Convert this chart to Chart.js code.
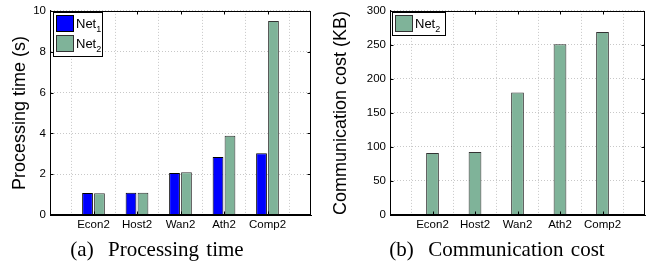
<!DOCTYPE html>
<html>
<head>
<meta charset="utf-8">
<script src="https://cdn.jsdelivr.net/npm/chart.js@4"></script>
<style>
  body { margin: 0; background: #fff; width: 650px; height: 268px; position: relative; overflow: hidden; }
  .box { position: absolute; top: 0; width: 325px; height: 240px; }
  .cap { position: absolute; top: 237px; font-family: 'Liberation Serif', 'Times New Roman', serif; font-size: 21px; color: #000; white-space: nowrap; word-spacing: 2px; transform: translateX(-50%); }
</style>
</head>
<body>
<div class="box" style="left:0"><canvas id="timeChart" width="325" height="240"></canvas></div>
<div class="box" style="left:325px"><canvas id="commChart" width="325" height="240"></canvas></div>
<div class="cap" style="left:157px">(a)&nbsp; Processing time</div>
<div class="cap" style="left:497px">(b)&nbsp; Communication cost</div>
<script>
const categories = ['Econ2', 'Host2', 'Wan2', 'Ath2', 'Comp2'];
const net1Time = [1.08, 1.09, 2.06, 2.84, 3.03];
const net2Time = [1.06, 1.09, 2.10, 3.88, 9.50];
const net2Comm = [91, 92.5, 180, 251, 269];
const timeTicks = [0, 2, 4, 6, 8, 10];
const commTicks = [0, 50, 100, 150, 200, 250, 300];

const blue = '#0000ff';
const green = '#7fb399';
const sans = "'Liberation Sans', Arial, sans-serif";

// matlab xlim is [0, 6]: pad with an empty slot on each side
const padLabels = ['', ...categories, ''];
const pad = arr => [null, ...arr, null];

// box around the axes, inward tick marks and the matlab style legend
const matlabBox = {
    id: 'matlabBox',
    afterDatasetsDraw(chart, args, opts) {
        const {ctx, chartArea: a, scales: {x, y}} = chart;
        const L = Math.round(a.left) + 0.5, R = Math.round(a.right) - 0.5;
        const T = Math.round(a.top) + 0.5, B = Math.round(a.bottom) - 0.5;
        ctx.save();
        ctx.strokeStyle = '#000';
        ctx.lineWidth = 1;
        ctx.beginPath();
        y.ticks.forEach(t => {
            const py = Math.round(y.getPixelForValue(t.value)) + 0.5;
            ctx.moveTo(L, py); ctx.lineTo(L + 3, py);
            ctx.moveTo(R, py); ctx.lineTo(R - 3, py);
        });
        for (let i = 1; i <= categories.length; i++) {
            const px = Math.round(x.getPixelForValue(i)) + 0.5;
            ctx.moveTo(px, B); ctx.lineTo(px, B - 3);
            ctx.moveTo(px, T); ctx.lineTo(px, T + 3);
        }
        ctx.stroke();
        ctx.strokeRect(L, T, R - L, B - T);

        // legend
        const lg = opts.legend;
        ctx.fillStyle = '#fff';
        ctx.fillRect(lg.x, lg.y, lg.w, lg.h);
        ctx.strokeRect(lg.x + 0.5, lg.y + 0.5, lg.w - 1, lg.h - 1);
        chart.data.datasets.forEach((ds, i) => {
            const sy = lg.y + 3 + i * 20;
            ctx.fillStyle = ds.backgroundColor;
            ctx.fillRect(lg.x + 3, sy, 18, 17);
            ctx.strokeStyle = ds.borderColor;
            ctx.strokeRect(lg.x + 3.5, sy + 0.5, 17, 16);
            ctx.fillStyle = '#000';
            ctx.textBaseline = 'alphabetic';
            ctx.textAlign = 'left';
            ctx.font = '13px ' + sans;
            ctx.fillText('Net', lg.x + 23, sy + 13);
            const w = ctx.measureText('Net').width;
            ctx.font = '9px ' + sans;
            ctx.fillText(ds.sub, lg.x + 23 + w, sy + 17);
        });
        ctx.restore();
    }
};

function axes(yMax, yStep, yTitle, yWidth, titlePad) {
    return {
        x: {
            type: 'category',
            offset: false,
            grid: { color: '#c8c8c8', drawTicks: false, lineWidth: 1 },
            border: { display: true, color: '#000', dash: [1, 2] },
            ticks: { color: '#000', font: { family: sans, size: 11.5 }, padding: 3, autoSkip: false, maxRotation: 0 },
            afterFit: s => { s.height = 25; }
        },
        y: {
            min: 0,
            max: yMax,
            ticks: { stepSize: yStep, color: '#000', font: { family: sans, size: 11.5 }, padding: 4 },
            grid: { color: '#c8c8c8', drawTicks: false, lineWidth: 1 },
            border: { display: true, color: '#000', dash: [1, 2] },
            title: { display: true, text: yTitle, color: '#000', font: { family: sans, size: 18 }, padding: { top: titlePad, bottom: 0 } },
            afterFit: s => { s.width = yWidth; }
        }
    };
}

new Chart(document.getElementById('timeChart'), {
    type: 'bar',
    data: {
        labels: padLabels,
        datasets: [{
            data: pad(net1Time),
            sub: '1',
            backgroundColor: blue,
            borderColor: '#000',
            borderWidth: 1,
            categoryPercentage: 0.55,
            barPercentage: 0.9
        }, {
            data: pad(net2Time),
            sub: '2',
            backgroundColor: green,
            borderColor: '#333',
            borderWidth: 1,
            categoryPercentage: 0.55,
            barPercentage: 0.9
        }]
    },
    options: {
        responsive: false,
        animation: false,
        layout: { padding: { top: 10, right: 14, bottom: 0, left: 0 } },
        plugins: {
            legend: { display: false },
            tooltip: { enabled: false },
            matlabBox: { legend: { x: 53, y: 12, w: 50, h: 45 } }
        },
        scales: axes(timeTicks[timeTicks.length - 1], timeTicks[1] - timeTicks[0], 'Processing time (s)', 50, 9)
    },
    plugins: [matlabBox]
});

new Chart(document.getElementById('commChart'), {
    type: 'bar',
    data: {
        labels: padLabels,
        datasets: [{
            data: pad(net2Comm),
            sub: '2',
            backgroundColor: green,
            borderColor: '#333',
            borderWidth: 1,
            categoryPercentage: 0.3,
            barPercentage: 1
        }]
    },
    options: {
        responsive: false,
        animation: false,
        layout: { padding: { top: 10, right: 5, bottom: 0, left: 0 } },
        plugins: {
            legend: { display: false },
            tooltip: { enabled: false },
            matlabBox: { legend: { x: 67, y: 12, w: 54, h: 24 } }
        },
        scales: axes(commTicks[commTicks.length - 1], commTicks[1] - commTicks[0], 'Communication cost (KB)', 65, 5)
    },
    plugins: [matlabBox]
});
</script>
</body>
</html>
